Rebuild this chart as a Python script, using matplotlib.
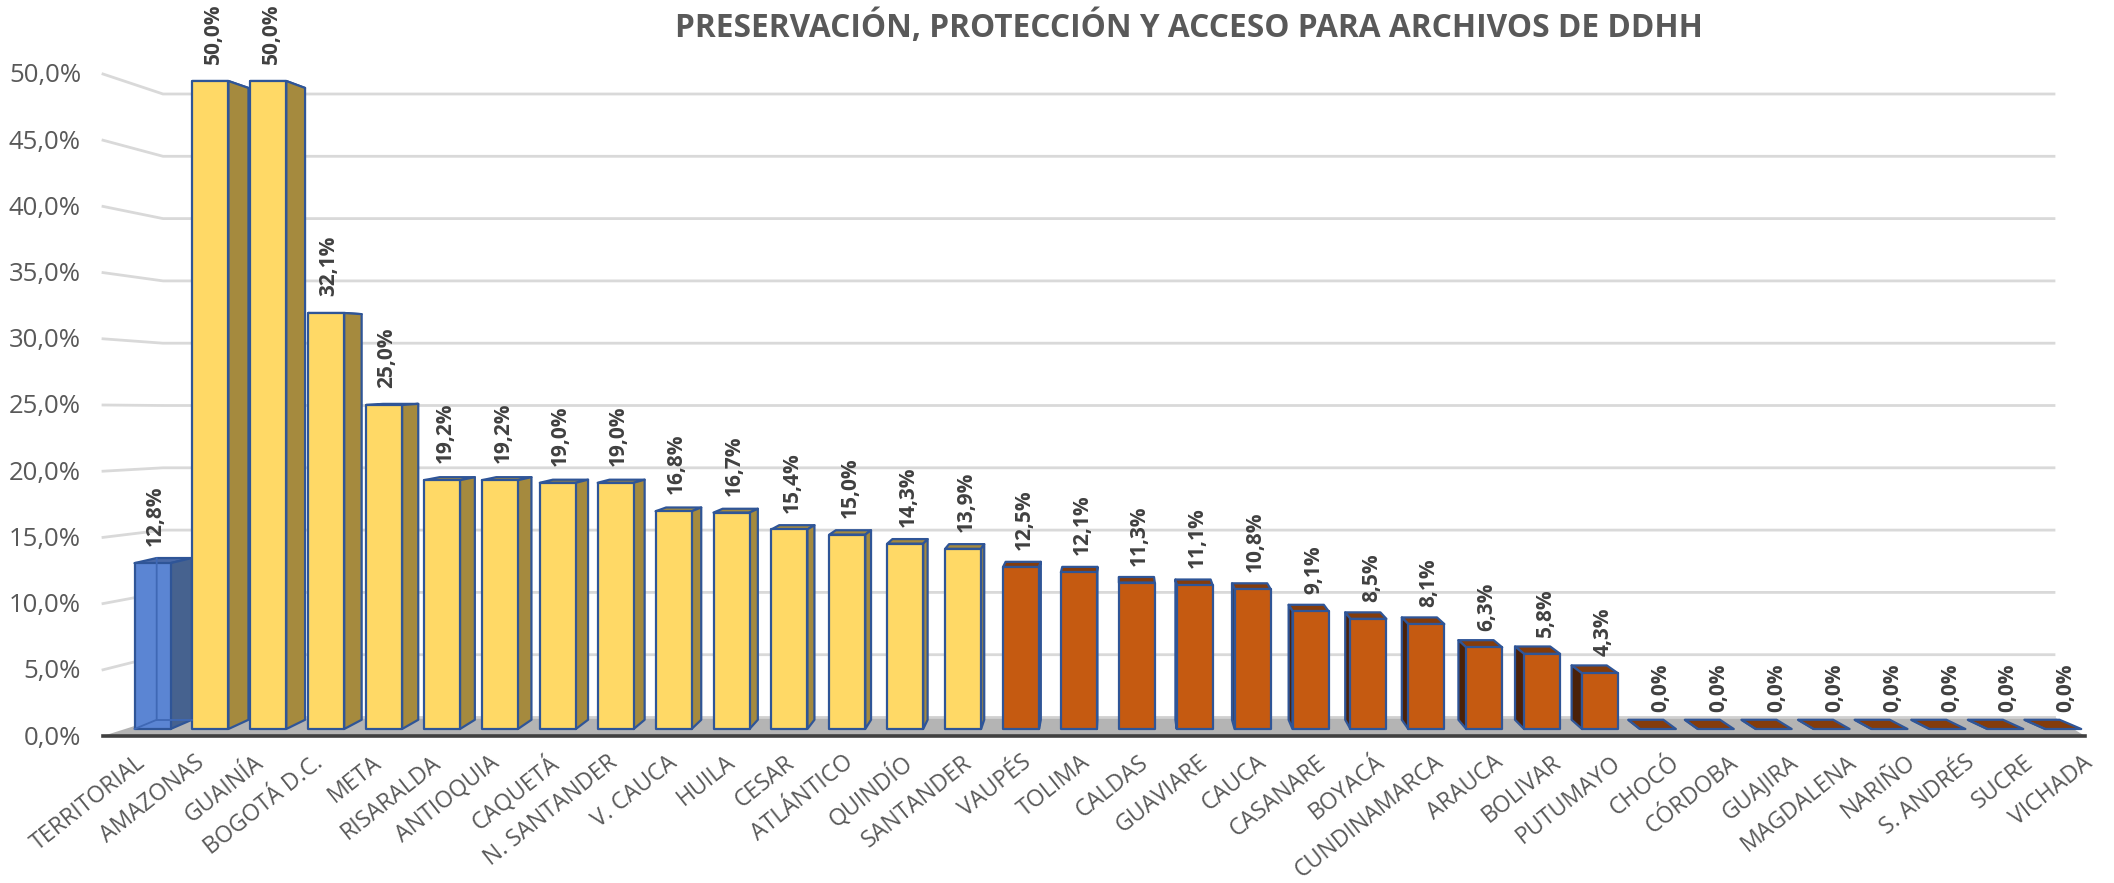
import matplotlib
matplotlib.use("Agg")
import matplotlib.pyplot as plt
from matplotlib.patches import Polygon

TITLE = "PRESERVACIÓN, PROTECCIÓN Y ACCESO PARA ARCHIVOS DE DDHH"
categories = ["TERRITORIAL", "AMAZONAS", "GUAINÍA", "BOGOTÁ D.C.", "META", "RISARALDA",
              "ANTIOQUIA", "CAQUETÁ", "N. SANTANDER", "V. CAUCA", "HUILA", "CESAR",
              "ATLÁNTICO", "QUINDÍO", "SANTANDER", "VAUPÉS", "TOLIMA", "CALDAS",
              "GUAVIARE", "CAUCA", "CASANARE", "BOYACÁ", "CUNDINAMARCA", "ARAUCA",
              "BOLIVAR", "PUTUMAYO", "CHOCÓ", "CÓRDOBA", "GUAJIRA", "MAGDALENA",
              "NARIÑO", "S. ANDRÉS", "SUCRE", "VICHADA"]
values = [12.8, 50.0, 50.0, 32.1, 25.0, 19.2, 19.2, 19.0, 19.0, 16.8, 16.7, 15.4, 15.0,
          14.3, 13.9, 12.5, 12.1, 11.3, 11.1, 10.8, 9.1, 8.5, 8.1, 6.3, 5.8, 4.3,
          0.0, 0.0, 0.0, 0.0, 0.0, 0.0, 0.0, 0.0]
y_ticks = [0, 5, 10, 15, 20, 25, 30, 35, 40, 45, 50]

W, H = 2114, 883
# layout: pixel position of category 0 / value 0 and their pixel steps on the bar front plane
X0, DX = 152.5, 57.9
Y0, DY = 729.0, 12.96
BAR_W = 36.0 / DX
# perspective of the bar depth
VX, VY = (1120 - X0) / DX, (Y0 - 360) / DY
SX, SY = 0.0225, 0.025

fig = plt.figure(figsize=(W / 100, H / 100), dpi=100, facecolor="white")
ax = fig.add_axes([0, 0, 1, 1])
ax.set_xlim(-X0 / DX, (W - X0) / DX)
ax.set_ylim((Y0 - H) / DY, Y0 / DY)
ax.axis("off")

FONT = ["Open Sans", "DejaVu Sans"]


def gx(px):
    return (px - X0) / DX


def gy(py):
    return (Y0 - py) / DY


def back(x, y):
    return (x + (VX - x) * SX, y + (VY - y) * SY)


def fmt(v):
    return f"{v:.1f}".replace(".", ",") + "%"


# walls: value v on the front ticks and on the back wall
def front_y(v):
    return gy(736 - 13.24 * v)


def back_y(v):
    return gy(717 - 12.46 * v)


L_F, L_B, R_B, R_F = gx(103), gx(163), gx(2054), gx(2085)

ax.add_patch(Polygon([(L_F, front_y(0)), (L_B, back_y(0)), (R_B, back_y(0)), (R_F, front_y(0))],
                     closed=True, fc="#b4b4b4", ec="none", zorder=1))
for v in y_ticks:
    if v > 0:
        ax.plot([L_F, L_B, R_B], [front_y(v), back_y(v), back_y(v)], color="#d9d9d9",
                lw=2.0, zorder=1, solid_joinstyle="miter")
    else:
        ax.plot([L_B, R_B], [back_y(v), back_y(v)], color="#d0d0d0", lw=2.0, zorder=1)
    ax.text(gx(81), front_y(v) - 2 / DY, fmt(v), ha="right", va="center",
            fontsize=18.5, color="#595959", family=FONT, zorder=6)
ax.plot([L_F, R_F], [front_y(0), front_y(0)], color="#404040", lw=2.6, zorder=2)

EDGE = "#2F5597"
LW = 1.6
# category labels sit on the nearer floor edge, so they are spaced a little wider than the bars
LABEL_X0, LABEL_DX = 143.0, 59.0


def style(i, v):
    if i == 0:
        return dict(front="#5B85D3", side="#46628F", top="#4A6AA8")
    if v >= 13.5:
        return dict(front="#FFD966", side="#A58A3E", top="#A58A3E")
    return dict(front="#C55A11", side="#4A2109", top="#843C0C")


for i, (cat, v) in enumerate(zip(categories, values)):
    c = style(i, v)
    xl, xr = i - BAR_W / 2, i + BAR_W / 2
    fl, fr = (xl, v), (xr, v)
    bl0, br0 = back(xl, 0), back(xr, 0)
    blt, brt = back(xl, v), back(xr, v)
    kw = dict(closed=True, ec=EDGE, lw=LW, joinstyle="round")
    # top face
    ax.add_patch(Polygon([fl, fr, brt, blt], fc=c["top"], zorder=3, **kw))
    # side face seen from the vanishing point
    if xr < VX:
        ax.add_patch(Polygon([(xr, 0), br0, brt, fr], fc=c["side"], zorder=3, **kw))
    elif xl > VX:
        ax.add_patch(Polygon([(xl, 0), bl0, blt, fl], fc=c["side"], zorder=3, **kw))
    # front face
    if v > 0:
        ax.add_patch(Polygon([(xl, 0), (xr, 0), fr, fl], fc=c["front"], zorder=4, **kw))
    if i == 0:  # translucent bar: the hidden back edges show through
        ax.plot([blt[0], bl0[0], xl], [blt[1], bl0[1], 0], color="#3F68B5", lw=1.3, zorder=5)
        ax.plot([bl0[0], br0[0]], [bl0[1], bl0[1]], color="#3F68B5", lw=1.3, zorder=5)
    ax.text(i + 0.05, v + 1.3, fmt(v), rotation=90, ha="center", va="bottom",
            fontsize=15, fontweight="bold", color="#404040", family=FONT, zorder=6)
    ax.text(gx(LABEL_X0 + LABEL_DX * i), gy(760), cat, rotation=38.5, rotation_mode="anchor",
            ha="right", va="center", fontsize=16.7, color="#595959", family=FONT, zorder=6)

ax.text(gx(1189), gy(28), TITLE, ha="center", va="center", fontsize=22.8,
        fontweight="bold", color="#595959", family=FONT, zorder=6)

fig.savefig("out.png", dpi=100, facecolor="white")
